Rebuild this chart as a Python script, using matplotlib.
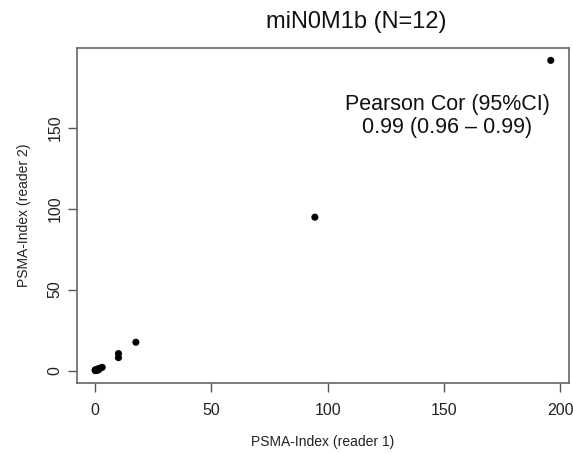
import numpy as np
import matplotlib.pyplot as plt

plt.rcParams['font.family'] = ['Liberation Sans', 'DejaVu Sans']

# PSMA-Index readings, reader 1 vs reader 2
reader1 = [0, 0.5, 0, 1, 1.5, 2, 3, 10, 10, 17.5, 94.5, 196]
reader2 = [0, 0, 0.5, 1, 0.5, 1.5, 2, 8, 10.5, 17.5, 94.7, 191.5]

title = "miN0M1b (N=12)"
cor_text = "Pearson Cor (95%CI)\n0.99 (0.96 \u2013 0.99)"
xticks = [0, 50, 100, 150, 200]
yticks = [0, 50, 100, 150]

fig = plt.figure(figsize=(5.73, 4.54), dpi=100)
ax = fig.add_axes([0.1344, 0.1564, 0.8586, 0.7379])

ax.scatter(reader1, reader2, s=26, color='black', edgecolors='none', zorder=3)

# R-style 4% padding around the data range
x0, x1 = min(reader1), max(reader1)
y0, y1 = min(reader2), max(reader2)
ax.set_xlim(x0 - 0.04 * (x1 - x0), x1 + 0.04 * (x1 - x0))
ax.set_ylim(y0 - 0.04 * (y1 - y0), y1 + 0.04 * (y1 - y0))

ax.set_xticks(xticks)
ax.set_yticks(yticks)
ax.tick_params(direction='out', length=6.5, width=1, color='#555555',
               labelsize=11.5, labelcolor='#222222')
ax.tick_params(axis='x', pad=8)
ax.tick_params(axis='y', pad=4)
plt.setp(ax.get_yticklabels(), rotation=90, va='center')
for sp in ax.spines.values():
    sp.set_color('#666666')
    sp.set_linewidth(1.2)

ax.set_xlabel("PSMA-Index (reader 1)", fontsize=10, color='#222222', labelpad=12)
ax.set_ylabel("PSMA-Index (reader 2)", fontsize=10, color='#222222', labelpad=12)
fig.text(0.621, 0.952, title, ha='center', va='center', fontsize=17, color='#111111')

ax.text(151.5, 157, cor_text, ha='center', va='center', fontsize=15.5,
        color='#111111', linespacing=1.15)

fig.savefig('out.png', dpi=100)
